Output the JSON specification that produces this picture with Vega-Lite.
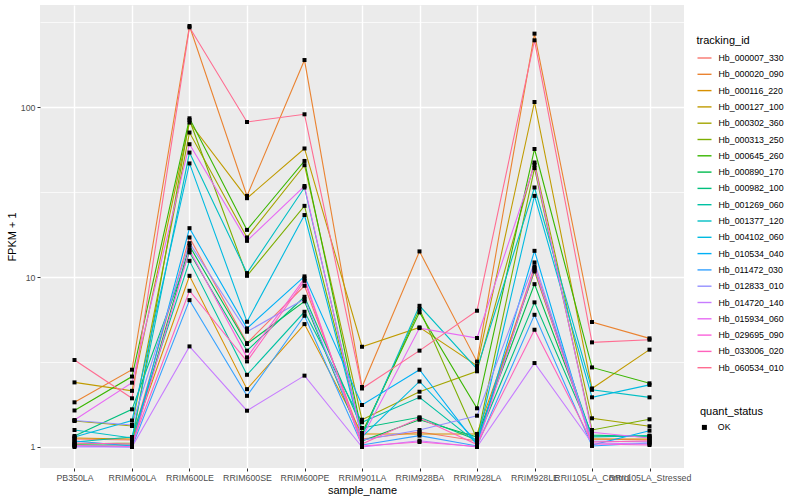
{
"$schema": "https://vega.github.io/schema/vega-lite/v6.json",
"width": 644, "height": 463,
"autosize": {"type": "none"},
"padding": {"left": 40, "top": 5, "right": 116, "bottom": 32},
"background": "white",
"config": {"font": "Liberation Sans", "view": {"fill": "#EBEBEB", "stroke": null}},
"data": {"values": [
{"tracking_id":"Hb_000007_330","sample_name":"PB350LA","FPKM":1.115,"quant_status":"OK"},
{"tracking_id":"Hb_000007_330","sample_name":"RRIM600LA","FPKM":1.099,"quant_status":"OK"},
{"tracking_id":"Hb_000007_330","sample_name":"RRIM600LE","FPKM":17.12,"quant_status":"OK"},
{"tracking_id":"Hb_000007_330","sample_name":"RRIM600SE","FPKM":4.09,"quant_status":"OK"},
{"tracking_id":"Hb_000007_330","sample_name":"RRIM600PE","FPKM":8.89,"quant_status":"OK"},
{"tracking_id":"Hb_000007_330","sample_name":"RRIM901LA","FPKM":1.115,"quant_status":"OK"},
{"tracking_id":"Hb_000007_330","sample_name":"RRIM928BA","FPKM":1.225,"quant_status":"OK"},
{"tracking_id":"Hb_000007_330","sample_name":"RRIM928LA","FPKM":1.085,"quant_status":"OK"},
{"tracking_id":"Hb_000007_330","sample_name":"RRIM928LE","FPKM":11.56,"quant_status":"OK"},
{"tracking_id":"Hb_000007_330","sample_name":"RRII105LA_Control","FPKM":1.115,"quant_status":"OK"},
{"tracking_id":"Hb_000007_330","sample_name":"RRII105LA_Stressed","FPKM":1.099,"quant_status":"OK"},
{"tracking_id":"Hb_000020_090","sample_name":"PB350LA","FPKM":1.832,"quant_status":"OK"},
{"tracking_id":"Hb_000020_090","sample_name":"RRIM600LA","FPKM":2.85,"quant_status":"OK"},
{"tracking_id":"Hb_000020_090","sample_name":"RRIM600LE","FPKM":300.8,"quant_status":"OK"},
{"tracking_id":"Hb_000020_090","sample_name":"RRIM600SE","FPKM":30.08,"quant_status":"OK"},
{"tracking_id":"Hb_000020_090","sample_name":"RRIM600PE","FPKM":189.7,"quant_status":"OK"},
{"tracking_id":"Hb_000020_090","sample_name":"RRIM901LA","FPKM":2.254,"quant_status":"OK"},
{"tracking_id":"Hb_000020_090","sample_name":"RRIM928BA","FPKM":14.17,"quant_status":"OK"},
{"tracking_id":"Hb_000020_090","sample_name":"RRIM928LA","FPKM":3.18,"quant_status":"OK"},
{"tracking_id":"Hb_000020_090","sample_name":"RRIM928LE","FPKM":271.3,"quant_status":"OK"},
{"tracking_id":"Hb_000020_090","sample_name":"RRII105LA_Control","FPKM":5.44,"quant_status":"OK"},
{"tracking_id":"Hb_000020_090","sample_name":"RRII105LA_Stressed","FPKM":4.36,"quant_status":"OK"},
{"tracking_id":"Hb_000116_220","sample_name":"PB350LA","FPKM":1.13,"quant_status":"OK"},
{"tracking_id":"Hb_000116_220","sample_name":"RRIM600LA","FPKM":1.115,"quant_status":"OK"},
{"tracking_id":"Hb_000116_220","sample_name":"RRIM600LE","FPKM":10.18,"quant_status":"OK"},
{"tracking_id":"Hb_000116_220","sample_name":"RRIM600SE","FPKM":2.19,"quant_status":"OK"},
{"tracking_id":"Hb_000116_220","sample_name":"RRIM600PE","FPKM":5.29,"quant_status":"OK"},
{"tracking_id":"Hb_000116_220","sample_name":"RRIM901LA","FPKM":1.193,"quant_status":"OK"},
{"tracking_id":"Hb_000116_220","sample_name":"RRIM928BA","FPKM":1.193,"quant_status":"OK"},
{"tracking_id":"Hb_000116_220","sample_name":"RRIM928LA","FPKM":1.193,"quant_status":"OK"},
{"tracking_id":"Hb_000116_220","sample_name":"RRIM928LE","FPKM":10.8,"quant_status":"OK"},
{"tracking_id":"Hb_000116_220","sample_name":"RRII105LA_Control","FPKM":1.115,"quant_status":"OK"},
{"tracking_id":"Hb_000116_220","sample_name":"RRII105LA_Stressed","FPKM":1.115,"quant_status":"OK"},
{"tracking_id":"Hb_000127_100","sample_name":"PB350LA","FPKM":2.4,"quant_status":"OK"},
{"tracking_id":"Hb_000127_100","sample_name":"RRIM600LA","FPKM":2.14,"quant_status":"OK"},
{"tracking_id":"Hb_000127_100","sample_name":"RRIM600LE","FPKM":81.3,"quant_status":"OK"},
{"tracking_id":"Hb_000127_100","sample_name":"RRIM600SE","FPKM":29.15,"quant_status":"OK"},
{"tracking_id":"Hb_000127_100","sample_name":"RRIM600PE","FPKM":57.2,"quant_status":"OK"},
{"tracking_id":"Hb_000127_100","sample_name":"RRIM901LA","FPKM":3.89,"quant_status":"OK"},
{"tracking_id":"Hb_000127_100","sample_name":"RRIM928BA","FPKM":5.06,"quant_status":"OK"},
{"tracking_id":"Hb_000127_100","sample_name":"RRIM928LA","FPKM":3.01,"quant_status":"OK"},
{"tracking_id":"Hb_000127_100","sample_name":"RRIM928LE","FPKM":107.4,"quant_status":"OK"},
{"tracking_id":"Hb_000127_100","sample_name":"RRII105LA_Control","FPKM":2.21,"quant_status":"OK"},
{"tracking_id":"Hb_000127_100","sample_name":"RRII105LA_Stressed","FPKM":3.74,"quant_status":"OK"},
{"tracking_id":"Hb_000302_360","sample_name":"PB350LA","FPKM":1.422,"quant_status":"OK"},
{"tracking_id":"Hb_000302_360","sample_name":"RRIM600LA","FPKM":1.329,"quant_status":"OK"},
{"tracking_id":"Hb_000302_360","sample_name":"RRIM600LE","FPKM":71.0,"quant_status":"OK"},
{"tracking_id":"Hb_000302_360","sample_name":"RRIM600SE","FPKM":17.12,"quant_status":"OK"},
{"tracking_id":"Hb_000302_360","sample_name":"RRIM600PE","FPKM":45.6,"quant_status":"OK"},
{"tracking_id":"Hb_000302_360","sample_name":"RRIM901LA","FPKM":1.447,"quant_status":"OK"},
{"tracking_id":"Hb_000302_360","sample_name":"RRIM928BA","FPKM":2.115,"quant_status":"OK"},
{"tracking_id":"Hb_000302_360","sample_name":"RRIM928LA","FPKM":2.79,"quant_status":"OK"},
{"tracking_id":"Hb_000302_360","sample_name":"RRIM928LE","FPKM":47.3,"quant_status":"OK"},
{"tracking_id":"Hb_000302_360","sample_name":"RRII105LA_Control","FPKM":1.475,"quant_status":"OK"},
{"tracking_id":"Hb_000302_360","sample_name":"RRII105LA_Stressed","FPKM":1.324,"quant_status":"OK"},
{"tracking_id":"Hb_000313_250","sample_name":"PB350LA","FPKM":1.041,"quant_status":"OK"},
{"tracking_id":"Hb_000313_250","sample_name":"RRIM600LA","FPKM":1.056,"quant_status":"OK"},
{"tracking_id":"Hb_000313_250","sample_name":"RRIM600LE","FPKM":84.2,"quant_status":"OK"},
{"tracking_id":"Hb_000313_250","sample_name":"RRIM600SE","FPKM":10.18,"quant_status":"OK"},
{"tracking_id":"Hb_000313_250","sample_name":"RRIM600PE","FPKM":26.27,"quant_status":"OK"},
{"tracking_id":"Hb_000313_250","sample_name":"RRIM901LA","FPKM":1.177,"quant_status":"OK"},
{"tracking_id":"Hb_000313_250","sample_name":"RRIM928BA","FPKM":6.48,"quant_status":"OK"},
{"tracking_id":"Hb_000313_250","sample_name":"RRIM928LA","FPKM":1.115,"quant_status":"OK"},
{"tracking_id":"Hb_000313_250","sample_name":"RRIM928LE","FPKM":43.8,"quant_status":"OK"},
{"tracking_id":"Hb_000313_250","sample_name":"RRII105LA_Control","FPKM":1.259,"quant_status":"OK"},
{"tracking_id":"Hb_000313_250","sample_name":"RRII105LA_Stressed","FPKM":1.455,"quant_status":"OK"},
{"tracking_id":"Hb_000645_260","sample_name":"PB350LA","FPKM":1.64,"quant_status":"OK"},
{"tracking_id":"Hb_000645_260","sample_name":"RRIM600LA","FPKM":2.598,"quant_status":"OK"},
{"tracking_id":"Hb_000645_260","sample_name":"RRIM600LE","FPKM":86.1,"quant_status":"OK"},
{"tracking_id":"Hb_000645_260","sample_name":"RRIM600SE","FPKM":18.97,"quant_status":"OK"},
{"tracking_id":"Hb_000645_260","sample_name":"RRIM600PE","FPKM":48.3,"quant_status":"OK"},
{"tracking_id":"Hb_000645_260","sample_name":"RRIM901LA","FPKM":1.209,"quant_status":"OK"},
{"tracking_id":"Hb_000645_260","sample_name":"RRIM928BA","FPKM":6.2,"quant_status":"OK"},
{"tracking_id":"Hb_000645_260","sample_name":"RRIM928LA","FPKM":1.689,"quant_status":"OK"},
{"tracking_id":"Hb_000645_260","sample_name":"RRIM928LE","FPKM":56.8,"quant_status":"OK"},
{"tracking_id":"Hb_000645_260","sample_name":"RRII105LA_Control","FPKM":2.94,"quant_status":"OK"},
{"tracking_id":"Hb_000645_260","sample_name":"RRII105LA_Stressed","FPKM":2.37,"quant_status":"OK"},
{"tracking_id":"Hb_000890_170","sample_name":"PB350LA","FPKM":1.027,"quant_status":"OK"},
{"tracking_id":"Hb_000890_170","sample_name":"RRIM600LA","FPKM":1.027,"quant_status":"OK"},
{"tracking_id":"Hb_000890_170","sample_name":"RRIM600LE","FPKM":15.28,"quant_status":"OK"},
{"tracking_id":"Hb_000890_170","sample_name":"RRIM600SE","FPKM":4.04,"quant_status":"OK"},
{"tracking_id":"Hb_000890_170","sample_name":"RRIM600PE","FPKM":7.2,"quant_status":"OK"},
{"tracking_id":"Hb_000890_170","sample_name":"RRIM901LA","FPKM":1.085,"quant_status":"OK"},
{"tracking_id":"Hb_000890_170","sample_name":"RRIM928BA","FPKM":1.447,"quant_status":"OK"},
{"tracking_id":"Hb_000890_170","sample_name":"RRIM928LA","FPKM":1.145,"quant_status":"OK"},
{"tracking_id":"Hb_000890_170","sample_name":"RRIM928LE","FPKM":9.09,"quant_status":"OK"},
{"tracking_id":"Hb_000890_170","sample_name":"RRII105LA_Control","FPKM":1.161,"quant_status":"OK"},
{"tracking_id":"Hb_000890_170","sample_name":"RRII105LA_Stressed","FPKM":1.161,"quant_status":"OK"},
{"tracking_id":"Hb_000982_100","sample_name":"PB350LA","FPKM":1.161,"quant_status":"OK"},
{"tracking_id":"Hb_000982_100","sample_name":"RRIM600LA","FPKM":1.666,"quant_status":"OK"},
{"tracking_id":"Hb_000982_100","sample_name":"RRIM600LE","FPKM":13.98,"quant_status":"OK"},
{"tracking_id":"Hb_000982_100","sample_name":"RRIM600SE","FPKM":3.69,"quant_status":"OK"},
{"tracking_id":"Hb_000982_100","sample_name":"RRIM600PE","FPKM":7.66,"quant_status":"OK"},
{"tracking_id":"Hb_000982_100","sample_name":"RRIM901LA","FPKM":1.294,"quant_status":"OK"},
{"tracking_id":"Hb_000982_100","sample_name":"RRIM928BA","FPKM":1.495,"quant_status":"OK"},
{"tracking_id":"Hb_000982_100","sample_name":"RRIM928LA","FPKM":1.099,"quant_status":"OK"},
{"tracking_id":"Hb_000982_100","sample_name":"RRIM928LE","FPKM":7.1,"quant_status":"OK"},
{"tracking_id":"Hb_000982_100","sample_name":"RRII105LA_Control","FPKM":1.177,"quant_status":"OK"},
{"tracking_id":"Hb_000982_100","sample_name":"RRII105LA_Stressed","FPKM":1.145,"quant_status":"OK"},
{"tracking_id":"Hb_001269_060","sample_name":"PB350LA","FPKM":1.07,"quant_status":"OK"},
{"tracking_id":"Hb_001269_060","sample_name":"RRIM600LA","FPKM":1.145,"quant_status":"OK"},
{"tracking_id":"Hb_001269_060","sample_name":"RRIM600LE","FPKM":12.47,"quant_status":"OK"},
{"tracking_id":"Hb_001269_060","sample_name":"RRIM600SE","FPKM":2.66,"quant_status":"OK"},
{"tracking_id":"Hb_001269_060","sample_name":"RRIM600PE","FPKM":6.25,"quant_status":"OK"},
{"tracking_id":"Hb_001269_060","sample_name":"RRIM901LA","FPKM":1.397,"quant_status":"OK"},
{"tracking_id":"Hb_001269_060","sample_name":"RRIM928BA","FPKM":1.96,"quant_status":"OK"},
{"tracking_id":"Hb_001269_060","sample_name":"RRIM928LA","FPKM":1.056,"quant_status":"OK"},
{"tracking_id":"Hb_001269_060","sample_name":"RRIM928LE","FPKM":11.04,"quant_status":"OK"},
{"tracking_id":"Hb_001269_060","sample_name":"RRII105LA_Control","FPKM":1.145,"quant_status":"OK"},
{"tracking_id":"Hb_001269_060","sample_name":"RRII105LA_Stressed","FPKM":1.166,"quant_status":"OK"},
{"tracking_id":"Hb_001377_120","sample_name":"PB350LA","FPKM":1.259,"quant_status":"OK"},
{"tracking_id":"Hb_001377_120","sample_name":"RRIM600LA","FPKM":1.13,"quant_status":"OK"},
{"tracking_id":"Hb_001377_120","sample_name":"RRIM600LE","FPKM":54.1,"quant_status":"OK"},
{"tracking_id":"Hb_001377_120","sample_name":"RRIM600SE","FPKM":10.56,"quant_status":"OK"},
{"tracking_id":"Hb_001377_120","sample_name":"RRIM600PE","FPKM":33.7,"quant_status":"OK"},
{"tracking_id":"Hb_001377_120","sample_name":"RRIM901LA","FPKM":1.161,"quant_status":"OK"},
{"tracking_id":"Hb_001377_120","sample_name":"RRIM928BA","FPKM":6.78,"quant_status":"OK"},
{"tracking_id":"Hb_001377_120","sample_name":"RRIM928LA","FPKM":2.88,"quant_status":"OK"},
{"tracking_id":"Hb_001377_120","sample_name":"RRIM928LE","FPKM":33.7,"quant_status":"OK"},
{"tracking_id":"Hb_001377_120","sample_name":"RRII105LA_Control","FPKM":2.17,"quant_status":"OK"},
{"tracking_id":"Hb_001377_120","sample_name":"RRII105LA_Stressed","FPKM":1.96,"quant_status":"OK"},
{"tracking_id":"Hb_004102_060","sample_name":"PB350LA","FPKM":1.145,"quant_status":"OK"},
{"tracking_id":"Hb_004102_060","sample_name":"RRIM600LA","FPKM":1.432,"quant_status":"OK"},
{"tracking_id":"Hb_004102_060","sample_name":"RRIM600LE","FPKM":46.7,"quant_status":"OK"},
{"tracking_id":"Hb_004102_060","sample_name":"RRIM600SE","FPKM":5.46,"quant_status":"OK"},
{"tracking_id":"Hb_004102_060","sample_name":"RRIM600PE","FPKM":23.2,"quant_status":"OK"},
{"tracking_id":"Hb_004102_060","sample_name":"RRIM901LA","FPKM":1.145,"quant_status":"OK"},
{"tracking_id":"Hb_004102_060","sample_name":"RRIM928BA","FPKM":2.43,"quant_status":"OK"},
{"tracking_id":"Hb_004102_060","sample_name":"RRIM928LA","FPKM":1.07,"quant_status":"OK"},
{"tracking_id":"Hb_004102_060","sample_name":"RRIM928LE","FPKM":30.08,"quant_status":"OK"},
{"tracking_id":"Hb_004102_060","sample_name":"RRII105LA_Control","FPKM":1.96,"quant_status":"OK"},
{"tracking_id":"Hb_004102_060","sample_name":"RRII105LA_Stressed","FPKM":2.32,"quant_status":"OK"},
{"tracking_id":"Hb_010534_040","sample_name":"PB350LA","FPKM":1.085,"quant_status":"OK"},
{"tracking_id":"Hb_010534_040","sample_name":"RRIM600LA","FPKM":1.014,"quant_status":"OK"},
{"tracking_id":"Hb_010534_040","sample_name":"RRIM600LE","FPKM":19.42,"quant_status":"OK"},
{"tracking_id":"Hb_010534_040","sample_name":"RRIM600SE","FPKM":4.99,"quant_status":"OK"},
{"tracking_id":"Hb_010534_040","sample_name":"RRIM600PE","FPKM":10.1,"quant_status":"OK"},
{"tracking_id":"Hb_010534_040","sample_name":"RRIM901LA","FPKM":1.766,"quant_status":"OK"},
{"tracking_id":"Hb_010534_040","sample_name":"RRIM928BA","FPKM":2.85,"quant_status":"OK"},
{"tracking_id":"Hb_010534_040","sample_name":"RRIM928LA","FPKM":1.027,"quant_status":"OK"},
{"tracking_id":"Hb_010534_040","sample_name":"RRIM928LE","FPKM":14.28,"quant_status":"OK"},
{"tracking_id":"Hb_010534_040","sample_name":"RRII105LA_Control","FPKM":1.027,"quant_status":"OK"},
{"tracking_id":"Hb_010534_040","sample_name":"RRII105LA_Stressed","FPKM":1.247,"quant_status":"OK"},
{"tracking_id":"Hb_011472_030","sample_name":"PB350LA","FPKM":1.014,"quant_status":"OK"},
{"tracking_id":"Hb_011472_030","sample_name":"RRIM600LA","FPKM":1.0,"quant_status":"OK"},
{"tracking_id":"Hb_011472_030","sample_name":"RRIM600LE","FPKM":7.32,"quant_status":"OK"},
{"tracking_id":"Hb_011472_030","sample_name":"RRIM600SE","FPKM":2.0,"quant_status":"OK"},
{"tracking_id":"Hb_011472_030","sample_name":"RRIM600PE","FPKM":5.92,"quant_status":"OK"},
{"tracking_id":"Hb_011472_030","sample_name":"RRIM901LA","FPKM":1.027,"quant_status":"OK"},
{"tracking_id":"Hb_011472_030","sample_name":"RRIM928BA","FPKM":1.166,"quant_status":"OK"},
{"tracking_id":"Hb_011472_030","sample_name":"RRIM928LA","FPKM":1.014,"quant_status":"OK"},
{"tracking_id":"Hb_011472_030","sample_name":"RRIM928LE","FPKM":6.0,"quant_status":"OK"},
{"tracking_id":"Hb_011472_030","sample_name":"RRII105LA_Control","FPKM":1.014,"quant_status":"OK"},
{"tracking_id":"Hb_011472_030","sample_name":"RRII105LA_Stressed","FPKM":1.056,"quant_status":"OK"},
{"tracking_id":"Hb_012833_010","sample_name":"PB350LA","FPKM":1.432,"quant_status":"OK"},
{"tracking_id":"Hb_012833_010","sample_name":"RRIM600LA","FPKM":1.347,"quant_status":"OK"},
{"tracking_id":"Hb_012833_010","sample_name":"RRIM600LE","FPKM":15.85,"quant_status":"OK"},
{"tracking_id":"Hb_012833_010","sample_name":"RRIM600SE","FPKM":4.77,"quant_status":"OK"},
{"tracking_id":"Hb_012833_010","sample_name":"RRIM600PE","FPKM":7.42,"quant_status":"OK"},
{"tracking_id":"Hb_012833_010","sample_name":"RRIM901LA","FPKM":1.099,"quant_status":"OK"},
{"tracking_id":"Hb_012833_010","sample_name":"RRIM928BA","FPKM":1.259,"quant_status":"OK"},
{"tracking_id":"Hb_012833_010","sample_name":"RRIM928LA","FPKM":1.528,"quant_status":"OK"},
{"tracking_id":"Hb_012833_010","sample_name":"RRIM928LE","FPKM":12.2,"quant_status":"OK"},
{"tracking_id":"Hb_012833_010","sample_name":"RRII105LA_Control","FPKM":1.085,"quant_status":"OK"},
{"tracking_id":"Hb_012833_010","sample_name":"RRII105LA_Stressed","FPKM":1.07,"quant_status":"OK"},
{"tracking_id":"Hb_014720_140","sample_name":"PB350LA","FPKM":1.0,"quant_status":"OK"},
{"tracking_id":"Hb_014720_140","sample_name":"RRIM600LA","FPKM":1.0,"quant_status":"OK"},
{"tracking_id":"Hb_014720_140","sample_name":"RRIM600LE","FPKM":3.91,"quant_status":"OK"},
{"tracking_id":"Hb_014720_140","sample_name":"RRIM600SE","FPKM":1.635,"quant_status":"OK"},
{"tracking_id":"Hb_014720_140","sample_name":"RRIM600PE","FPKM":2.63,"quant_status":"OK"},
{"tracking_id":"Hb_014720_140","sample_name":"RRIM901LA","FPKM":1.0,"quant_status":"OK"},
{"tracking_id":"Hb_014720_140","sample_name":"RRIM928BA","FPKM":1.089,"quant_status":"OK"},
{"tracking_id":"Hb_014720_140","sample_name":"RRIM928LA","FPKM":1.0,"quant_status":"OK"},
{"tracking_id":"Hb_014720_140","sample_name":"RRIM928LE","FPKM":3.12,"quant_status":"OK"},
{"tracking_id":"Hb_014720_140","sample_name":"RRII105LA_Control","FPKM":1.056,"quant_status":"OK"},
{"tracking_id":"Hb_014720_140","sample_name":"RRII105LA_Stressed","FPKM":1.041,"quant_status":"OK"},
{"tracking_id":"Hb_015934_060","sample_name":"PB350LA","FPKM":1.441,"quant_status":"OK"},
{"tracking_id":"Hb_015934_060","sample_name":"RRIM600LA","FPKM":2.39,"quant_status":"OK"},
{"tracking_id":"Hb_015934_060","sample_name":"RRIM600LE","FPKM":60.6,"quant_status":"OK"},
{"tracking_id":"Hb_015934_060","sample_name":"RRIM600SE","FPKM":16.35,"quant_status":"OK"},
{"tracking_id":"Hb_015934_060","sample_name":"RRIM600PE","FPKM":34.4,"quant_status":"OK"},
{"tracking_id":"Hb_015934_060","sample_name":"RRIM901LA","FPKM":1.13,"quant_status":"OK"},
{"tracking_id":"Hb_015934_060","sample_name":"RRIM928BA","FPKM":5.01,"quant_status":"OK"},
{"tracking_id":"Hb_015934_060","sample_name":"RRIM928LA","FPKM":4.38,"quant_status":"OK"},
{"tracking_id":"Hb_015934_060","sample_name":"RRIM928LE","FPKM":45.8,"quant_status":"OK"},
{"tracking_id":"Hb_015934_060","sample_name":"RRII105LA_Control","FPKM":1.22,"quant_status":"OK"},
{"tracking_id":"Hb_015934_060","sample_name":"RRII105LA_Stressed","FPKM":1.13,"quant_status":"OK"},
{"tracking_id":"Hb_029695_090","sample_name":"PB350LA","FPKM":1.02,"quant_status":"OK"},
{"tracking_id":"Hb_029695_090","sample_name":"RRIM600LA","FPKM":1.007,"quant_status":"OK"},
{"tracking_id":"Hb_029695_090","sample_name":"RRIM600LE","FPKM":14.47,"quant_status":"OK"},
{"tracking_id":"Hb_029695_090","sample_name":"RRIM600SE","FPKM":3.37,"quant_status":"OK"},
{"tracking_id":"Hb_029695_090","sample_name":"RRIM600PE","FPKM":9.83,"quant_status":"OK"},
{"tracking_id":"Hb_029695_090","sample_name":"RRIM901LA","FPKM":1.014,"quant_status":"OK"},
{"tracking_id":"Hb_029695_090","sample_name":"RRIM928BA","FPKM":1.07,"quant_status":"OK"},
{"tracking_id":"Hb_029695_090","sample_name":"RRIM928LA","FPKM":1.007,"quant_status":"OK"},
{"tracking_id":"Hb_029695_090","sample_name":"RRIM928LE","FPKM":11.3,"quant_status":"OK"},
{"tracking_id":"Hb_029695_090","sample_name":"RRII105LA_Control","FPKM":1.041,"quant_status":"OK"},
{"tracking_id":"Hb_029695_090","sample_name":"RRII105LA_Stressed","FPKM":1.027,"quant_status":"OK"},
{"tracking_id":"Hb_033006_020","sample_name":"PB350LA","FPKM":1.056,"quant_status":"OK"},
{"tracking_id":"Hb_033006_020","sample_name":"RRIM600LA","FPKM":1.041,"quant_status":"OK"},
{"tracking_id":"Hb_033006_020","sample_name":"RRIM600LE","FPKM":8.31,"quant_status":"OK"},
{"tracking_id":"Hb_033006_020","sample_name":"RRIM600SE","FPKM":3.19,"quant_status":"OK"},
{"tracking_id":"Hb_033006_020","sample_name":"RRIM600PE","FPKM":9.51,"quant_status":"OK"},
{"tracking_id":"Hb_033006_020","sample_name":"RRIM901LA","FPKM":1.041,"quant_status":"OK"},
{"tracking_id":"Hb_033006_020","sample_name":"RRIM928BA","FPKM":1.48,"quant_status":"OK"},
{"tracking_id":"Hb_033006_020","sample_name":"RRIM928LA","FPKM":1.034,"quant_status":"OK"},
{"tracking_id":"Hb_033006_020","sample_name":"RRIM928LE","FPKM":4.9,"quant_status":"OK"},
{"tracking_id":"Hb_033006_020","sample_name":"RRII105LA_Control","FPKM":1.07,"quant_status":"OK"},
{"tracking_id":"Hb_033006_020","sample_name":"RRII105LA_Stressed","FPKM":1.085,"quant_status":"OK"},
{"tracking_id":"Hb_060534_010","sample_name":"PB350LA","FPKM":3.25,"quant_status":"OK"},
{"tracking_id":"Hb_060534_010","sample_name":"RRIM600LA","FPKM":1.934,"quant_status":"OK"},
{"tracking_id":"Hb_060534_010","sample_name":"RRIM600LE","FPKM":295.6,"quant_status":"OK"},
{"tracking_id":"Hb_060534_010","sample_name":"RRIM600SE","FPKM":81.9,"quant_status":"OK"},
{"tracking_id":"Hb_060534_010","sample_name":"RRIM600PE","FPKM":90.9,"quant_status":"OK"},
{"tracking_id":"Hb_060534_010","sample_name":"RRIM901LA","FPKM":2.21,"quant_status":"OK"},
{"tracking_id":"Hb_060534_010","sample_name":"RRIM928BA","FPKM":3.69,"quant_status":"OK"},
{"tracking_id":"Hb_060534_010","sample_name":"RRIM928LA","FPKM":6.34,"quant_status":"OK"},
{"tracking_id":"Hb_060534_010","sample_name":"RRIM928LE","FPKM":247.8,"quant_status":"OK"},
{"tracking_id":"Hb_060534_010","sample_name":"RRII105LA_Control","FPKM":4.13,"quant_status":"OK"},
{"tracking_id":"Hb_060534_010","sample_name":"RRII105LA_Stressed","FPKM":4.28,"quant_status":"OK"}
]},
"encoding": {
  "x": {"field": "sample_name", "type": "nominal",
    "scale": {"type": "point", "padding": 0.6, "domain": ["PB350LA","RRIM600LA","RRIM600LE","RRIM600SE","RRIM600PE","RRIM901LA","RRIM928BA","RRIM928LA","RRIM928LE","RRII105LA_Control","RRII105LA_Stressed"]},
    "axis": {"title": "sample_name", "labelAngle": 0, "labelOverlap": false, "labelLimit": 0, "grid": true, "gridColor": "white", "gridWidth": 1.4, "domain": false, "tickColor": "#333333", "tickSize": 3, "tickWidth": 1, "labelColor": "#4D4D4D", "labelFontSize": 8.8, "labelPadding": 2, "titleFontSize": 11, "titleFontWeight": "normal", "titleColor": "black", "titlePadding": 3}},
  "y": {"field": "FPKM", "type": "quantitative",
    "scale": {"type": "log", "domain": [0.752, 400], "nice": false, "zero": false},
    "axis": {"title": "FPKM + 1", "values": [1, 3.1623, 10, 31.623, 100, 316.23],
      "labelExpr": "indexof([1,10,100], datum.value) >= 0 ? format(datum.value, 'd') : ''",
      "grid": true, "gridColor": "white",
      "gridWidth": {"condition": {"test": "indexof([1,10,100], datum.value) >= 0", "value": 1.4}, "value": 0.7},
      "tickOpacity": {"condition": {"test": "indexof([1,10,100], datum.value) >= 0", "value": 1}, "value": 0},
      "domain": false, "tickColor": "#333333", "tickSize": 3, "tickWidth": 1, "labelColor": "#4D4D4D", "labelFontSize": 8.8, "labelPadding": 2, "titleFontSize": 11, "titleFontWeight": "normal", "titleColor": "black", "titlePadding": 3}}
},
"layer": [
  {"mark": {"type": "line", "strokeWidth": 1.1},
   "encoding": {
     "color": {"field": "tracking_id", "type": "nominal",
       "scale": {"domain": ["Hb_000007_330","Hb_000020_090","Hb_000116_220","Hb_000127_100","Hb_000302_360","Hb_000313_250","Hb_000645_260","Hb_000890_170","Hb_000982_100","Hb_001269_060","Hb_001377_120","Hb_004102_060","Hb_010534_040","Hb_011472_030","Hb_012833_010","Hb_014720_140","Hb_015934_060","Hb_029695_090","Hb_033006_020","Hb_060534_010"],
         "range": ["#F8766D","#EA8331","#D89000","#C09B00","#A3A500","#7CAE00","#39B600","#00BB4E","#00BF7D","#00C1A3","#00BFC4","#00BAE0","#00B0F6","#35A2FF","#9590FF","#C77CFF","#E76BF3","#FA62DB","#FF62BC","#FF6C91"]},
       "legend": {"title": "tracking_id", "orient": "none", "legendX": 656.5, "legendY": 30, "symbolType": "stroke", "symbolSize": 196, "symbolStrokeWidth": 1.4, "rowPadding": 3.3, "labelFontSize": 8.8, "labelColor": "black", "titleFontSize": 11, "titleFontWeight": "normal", "titleColor": "black", "titlePadding": 4, "labelOffset": 6, "padding": 0}},
     "order": {"value": null}
   }},
  {"mark": {"type": "point", "filled": true, "size": 16, "color": "black", "opacity": 1},
   "encoding": {
     "shape": {"field": "quant_status", "type": "nominal", "scale": {"range": ["square"]},
       "legend": {"title": "quant_status", "orient": "none", "legendX": 660, "legendY": 401, "symbolSize": 25, "symbolFillColor": "black", "symbolStrokeColor": "black", "symbolOpacity": 1, "labelFontSize": 8.8, "labelColor": "black", "titleFontSize": 11, "titleFontWeight": "normal", "titleColor": "black", "titlePadding": 6, "labelOffset": 9, "padding": 0}}
   }}
]
}
